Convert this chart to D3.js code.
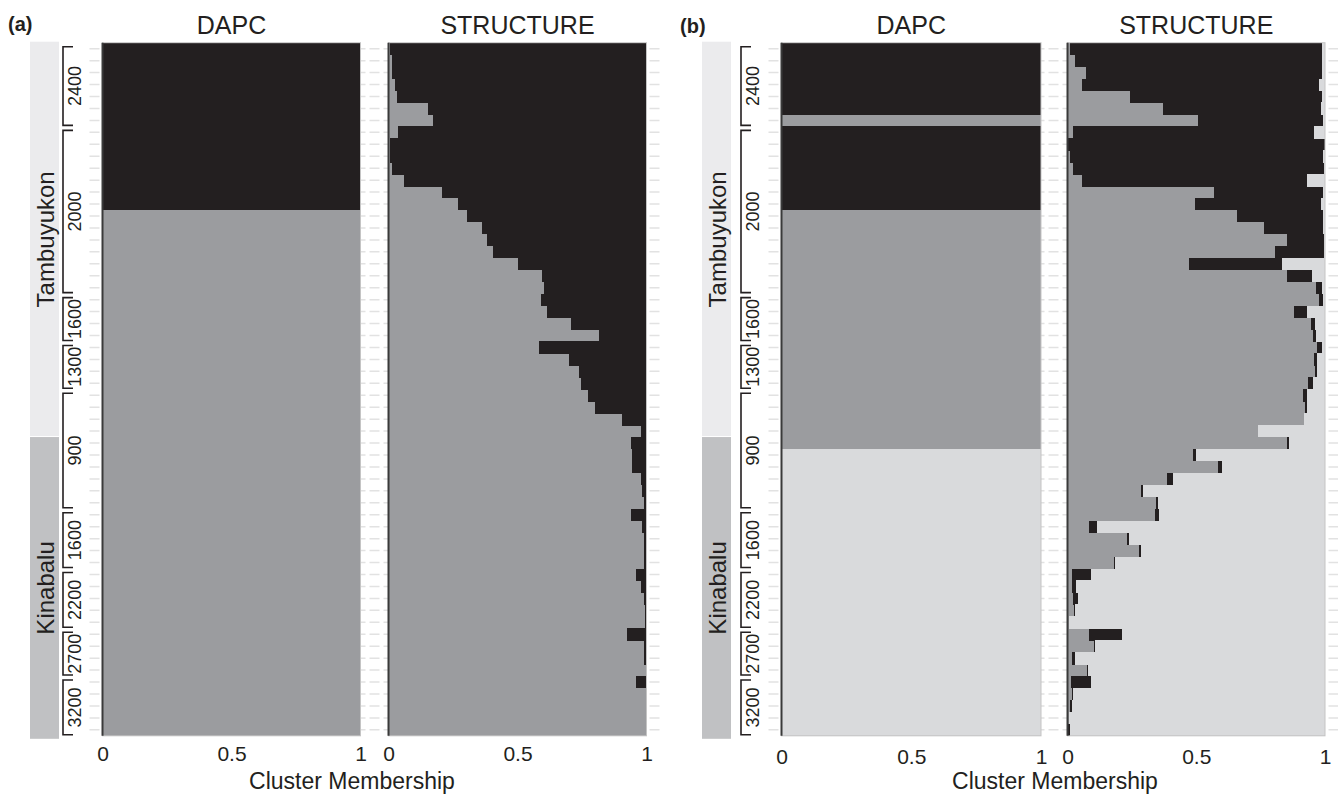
<!DOCTYPE html>
<html>
<head>
<meta charset="utf-8">
<script src="https://cdn.jsdelivr.net/npm/d3@7"></script>
<style>
  body { margin: 0; background: #fff; }
  svg { display: block; font-family: "Liberation Sans", Arial, sans-serif; }
</style>
</head>
<body>
<svg id="chart" width="1338" height="794"></svg>
<script>
// Clusters, in stacking order from left to right
const clusterKeys = ["gray", "black", "light"];
const clusterColors = ["#9b9c9f", "#231f20", "#d9dadc"];

// Sampling regions and elevation groups (individuals per group, top to bottom)
const regions = ["Tambuyukon", "Kinabalu"];
const regionCounts = [33, 25];
const elevLabels = ["2400", "2000", "1600", "1300", "900", "1600", "2200", "2700", "3200"];
const elevCounts = [7, 14, 4, 4, 10, 5, 5, 4, 5];

const tickValues = [0, 0.5, 1];

// DAPC assignment per individual (0 = gray, 1 = black, 2 = light)
const dapcA = [1,1,1,1,1,1,1,1,1,1,1,1,1,1,
  0,0,0,0,0,0,0,0,0,0,0,0,0,0,0,0,0,0,0,0,0,0,0,0,0,0,0,0,0,0,0,0,0,0,0,0,0,0,0,0,0,0,0,0];
const dapcB = [1,1,1,1,1,1,0,1,1,1,1,1,1,1,
  0,0,0,0,0,0,0,0,0,0,0,0,0,0,0,0,0,0,0,0,
  2,2,2,2,2,2,2,2,2,2,2,2,2,2,2,2,2,2,2,2,2,2,2,2];

// STRUCTURE K=2 (a): membership of the gray cluster; black is the rest
const structA_gray = [0.005, 0.015, 0.015, 0.026, 0.033, 0.155, 0.174, 0.035, 0.006, 0.006,
  0.015, 0.062, 0.206, 0.271, 0.303, 0.361, 0.381, 0.404, 0.503, 0.596,
  0.603, 0.591, 0.613, 0.707, 0.817, 0.585, 0.70, 0.739, 0.748, 0.774,
  0.80, 0.906, 0.98, 0.938, 0.945, 0.945, 0.977, 0.983, 0.99, 0.938,
  0.983, 0.99, 0.99, 0.99, 0.96, 0.98, 0.99, 0.995, 0.995, 0.923,
  0.99, 0.99, 1.0, 0.96, 1.0, 1.0, 1.0, 1.0];

// STRUCTURE K=3 (b): gray and black memberships; light is the rest
const structB_gray = [0.01, 0.03, 0.07, 0.055, 0.243, 0.37, 0.508, 0.02, 0.0, 0.01,
  0.02, 0.055, 0.57, 0.495, 0.66, 0.763, 0.854, 0.806, 0.47, 0.854,
  0.965, 0.978, 0.88, 0.946, 0.955, 0.967, 0.958, 0.961, 0.935, 0.916,
  0.922, 0.918, 0.741, 0.854, 0.486, 0.586, 0.388, 0.284, 0.344, 0.338,
  0.083, 0.233, 0.277, 0.181, 0.017, 0.017, 0.023, 0.027, 0.004, 0.083,
  0.101, 0.017, 0.075, 0.013, 0.017, 0.01, 0.004, 0.0];
const structB_black = [0.98, 0.96, 0.92, 0.92, 0.745, 0.613, 0.486, 0.937, 1.0, 0.984,
  0.976, 0.876, 0.424, 0.488, 0.331, 0.228, 0.142, 0.19, 0.362, 0.094,
  0.022, 0.015, 0.051, 0.015, 0.009, 0.02, 0.009, 0.009, 0.02, 0.013,
  0.009, 0.0, 0.0, 0.006, 0.014, 0.013, 0.021, 0.008, 0.006, 0.018,
  0.031, 0.006, 0.007, 0.005, 0.076, 0.017, 0.018, 0.004, 0.0, 0.128,
  0.006, 0.013, 0.006, 0.08, 0.006, 0.007, 0.002, 0.008];

// Build row tables for the stack layout
const assignRows = a => a.map(c => Object.fromEntries(clusterKeys.map((k, j) => [k, j === c ? 1 : 0])));
const structARows = structA_gray.map(g => ({ gray: g, black: 1 - g, light: 0 }));
const structBRows = structB_gray.map((g, i) => ({ gray: g, black: structB_black[i], light: Math.max(0, 1 - g - structB_black[i]) }));

const nInd = structA_gray.length;
const svg = d3.select("#chart");
const color = d3.scaleOrdinal().domain(clusterKeys).range(clusterColors);
const y = d3.scaleBand().domain(d3.range(nInd)).range([42.7, 735.8]).padding(0);
const stack = d3.stack().keys(clusterKeys);

const halves = [
  { tag: "(a)", tagX: 8, tagY: 31, stripX: 30, bracketX: 63,
    panels: [{ title: "DAPC", range: [102.5, 360.5], rows: assignRows(dapcA) },
             { title: "STRUCTURE", range: [388.5, 646.5], rows: structARows }],
    tickY: 761, labelX: 352, labelY: 789 },
  { tag: "(b)", tagX: 680, tagY: 33, stripX: 702, bracketX: 741,
    panels: [{ title: "DAPC", range: [781.5, 1041], rows: assignRows(dapcB) },
             { title: "STRUCTURE", range: [1067.5, 1325], rows: structBRows }],
    tickY: 764, labelX: 1055, labelY: 789 }
];

halves.forEach(h => {
  const g = svg.append("g");
  const x0 = h.panels[0].range[0];
  const x1 = h.panels[1].range[1];

  // Panel tag
  g.append("text").attr("x", h.tagX).attr("y", h.tagY)
    .attr("font-size", 20).attr("font-weight", "bold").attr("fill", "#231f20").text(h.tag);

  // Faint dashed row gridlines behind the bars
  g.append("g").selectAll("line").data(d3.range(nInd)).join("line")
    .attr("x1", x0 - 13).attr("x2", Math.min(1338, x1 + 15))
    .attr("y1", i => y(i) + y.bandwidth() / 2).attr("y2", i => y(i) + y.bandwidth() / 2)
    .attr("stroke", "#e2e2e2").attr("stroke-width", 1.5).attr("stroke-dasharray", "10,4");

  // Region strips
  let start = 0;
  regions.forEach((r, i) => {
    const top = y(start), bot = y(start + regionCounts[i] - 1) + y.bandwidth();
    const t = i === 0 ? top - 1 : top;
    const b = i === regions.length - 1 ? bot + 3 : bot;
    g.append("rect").attr("x", h.stripX).attr("y", t).attr("width", 29).attr("height", b - t)
      .attr("fill", i === 0 ? "#ebebed" : "#c0c1c3");
    g.append("line").attr("x1", h.stripX).attr("x2", h.stripX + 29).attr("y1", b).attr("y2", b)
      .attr("stroke", "#fff").attr("stroke-width", i === 0 ? 2 : 0);
    const cy = (t + b) / 2, cx = h.stripX + 23.5;
    g.append("text").attr("transform", `translate(${cx},${cy}) rotate(-90)`)
      .attr("text-anchor", "middle").attr("font-size", 24).attr("fill", "#231f20").text(r);
    start += regionCounts[i];
  });

  // Elevation brackets
  start = 0;
  elevLabels.forEach((lab, i) => {
    const top = y(start) + 4;
    const bot = y(start + elevCounts[i] - 1) + y.bandwidth() - 1;
    const bx = h.bracketX;
    g.append("path").attr("d", `M${bx + 10},${top}H${bx}V${bot}H${bx + 10}`)
      .attr("fill", "none").attr("stroke", "#231f20").attr("stroke-width", 1.6);
    g.append("text").attr("transform", `translate(${bx + 17.5},${(top + bot) / 2}) rotate(-90)`)
      .attr("text-anchor", "middle").attr("font-size", 18).attr("fill", "#231f20").text(lab);
    start += elevCounts[i];
  });

  // Bar panels
  h.panels.forEach(p => {
    const x = d3.scaleLinear().domain([0, 1]).range(p.range);
    const series = stack(p.rows);
    const pg = g.append("g");

    pg.selectAll("g.series").data(series).join("g").attr("class", "series")
      .attr("fill", s => color(s.key))
      .selectAll("rect").data(s => s).join("rect")
      .attr("x", d => x(d[0]))
      .attr("width", d => Math.max(0, x(d[1]) - x(d[0])))
      .attr("y", (d, i) => y(i))
      .attr("height", y.bandwidth() + 0.4)
      .attr("shape-rendering", "crispEdges");

    // Thin outline and dark zero line
    pg.append("rect").attr("x", p.range[0]).attr("y", y.range()[0])
      .attr("width", p.range[1] - p.range[0]).attr("height", y.range()[1] - y.range()[0])
      .attr("fill", "none").attr("stroke", "#c4c4c4").attr("stroke-width", 1);
    pg.append("line").attr("x1", p.range[0]).attr("x2", p.range[0])
      .attr("y1", y.range()[0]).attr("y2", y.range()[1])
      .attr("stroke", "#3a3a3a").attr("stroke-width", 2);

    // Title
    pg.append("text").attr("x", (p.range[0] + p.range[1]) / 2).attr("y", 34)
      .attr("text-anchor", "middle").attr("font-size", 25).attr("fill", "#231f20").text(p.title);

    // Tick labels
    const ax = pg.append("g").attr("transform", `translate(0,${h.tickY})`)
      .call(d3.axisBottom(x).tickValues(tickValues).tickFormat(d3.format("~g")).tickSize(0));
    ax.select(".domain").remove();
    ax.selectAll("text").attr("y", 0).attr("dy", 0)
      .attr("font-size", 21).attr("font-family", "Liberation Sans, Arial, sans-serif").attr("fill", "#231f20");
  });

  // Axis title
  g.append("text").attr("x", h.labelX).attr("y", h.labelY).attr("text-anchor", "middle")
    .attr("font-size", 23).attr("fill", "#231f20").text("Cluster Membership");
});
</script>
</body>
</html>
